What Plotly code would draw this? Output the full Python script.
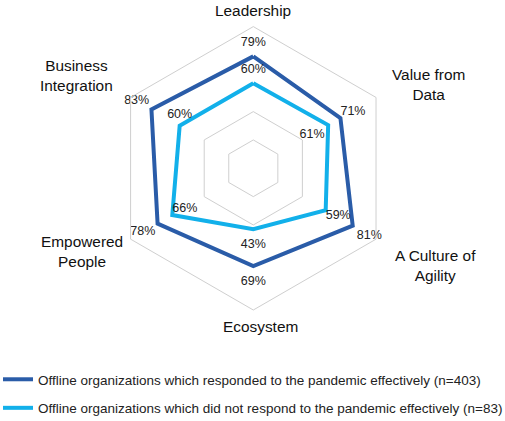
import plotly.graph_objects as go

categories = ["Leadership", "Value from Data", "A Culture of Agility", "Ecosystem", "Empowered People", "Business Integration"]
label_text = ["Leadership", "Value from<br>Data", "A Culture of<br>Agility", "Ecosystem", "Empowered<br>People", "Business<br>Integration"]
effective = [79, 71, 81, 69, 78, 83]
not_effective = [60, 61, 59, 43, 66, 60]
series_names = [
    "Offline organizations which responded to the pandemic effectively (n=403)",
    "Offline organizations which did not respond to the pandemic effectively (n=83)",
]

W, H = 505, 421
FONT = "Liberation Sans, Arial, sans-serif"
DARK = "#2a5ca8"
LIGHT = "#12b0ea"

# label pixel positions
label_px = [(253, 11), (428, 84), (435, 265), (260, 326), (82, 251), (76, 75)]

# value-label placement styles
eff_pos = ["top center", "top right", "bottom right", "bottom center", "bottom left", "top left"]
eff_gap = [10, 0, 5, 14, 2, 2]
not_pos = ["top center", "bottom left", "bottom right", "bottom center", "top right", "top center"]
not_gap = [10, 4, 0, 14, 0, 6]

fig = go.Figure()

def closed(v):
    return list(v) + [v[0]]

fig.add_trace(go.Scatterpolar(r=closed(effective), theta=closed(categories), mode="lines",
                              line=dict(color=DARK, width=4), name=series_names[0],
                              legendgroup="a"))
fig.add_trace(go.Scatterpolar(r=closed(not_effective), theta=closed(categories), mode="lines",
                              line=dict(color=LIGHT, width=4), name=series_names[1],
                              legendgroup="b"))

for vals, pos, gap in [(effective, eff_pos, eff_gap), (not_effective, not_pos, not_gap)]:
    fig.add_trace(go.Scatterpolar(r=vals, theta=categories, mode="markers+text",
                                  text=[f"{v}%" for v in vals],
                                  textposition=pos,
                                  marker=dict(size=gap, opacity=0, color="white"),
                                  textfont=dict(family=FONT, size=12.5, color="#222"),
                                  showlegend=False, cliponaxis=False, hoverinfo="skip"))

annotations = []
for t, (px, py) in zip(label_text, label_px):
    annotations.append(dict(x=px / W, y=1 - py / H, xref="paper", yref="paper", text=t,
                            showarrow=False, xanchor="center", yanchor="middle", align="center",
                            font=dict(family=FONT, size=15.4, color="#111")))

cx, cy, R = 253.3, 168.3, 141.7
fig.update_layout(
    width=W, height=H,
    margin=dict(l=0, r=0, t=0, b=0, autoexpand=False),
    paper_bgcolor="white", plot_bgcolor="white",
    font=dict(family=FONT, size=13.5, color="#222"),
    polar=dict(
        domain=dict(x=[(cx - R) / W, (cx + R) / W], y=[1 - (cy + R) / H, 1 - (cy - R) / H]),
        bgcolor="white",
        gridshape="linear",
        radialaxis=dict(range=[0, 100], tickvals=[20, 40], showticklabels=False, ticks="",
                        showline=False, gridcolor="#cfcfcf", gridwidth=1),
        angularaxis=dict(rotation=90, direction="clockwise", showticklabels=False, ticks="",
                         showgrid=False, showline=True, linecolor="#cfcfcf", linewidth=1),
    ),
    legend=dict(x=-2 / W, y=1 - 364 / H, xanchor="left", yanchor="top",
                font=dict(family=FONT, size=13.5, color="#222"),
                traceorder="grouped", tracegroupgap=8, bgcolor="rgba(0,0,0,0)"),
    annotations=annotations,
)

fig.write_html("out.html", config={"displayModeBar": False},
               post_script="document.body.style.margin='0px';")
